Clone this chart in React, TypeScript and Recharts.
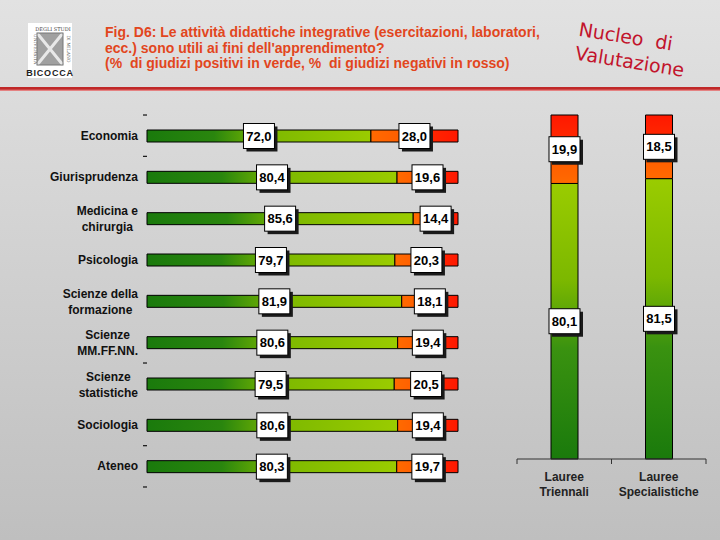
import React from 'react';
import { Bar, BarChart, LabelList, XAxis, YAxis } from 'recharts';

const faculties = [
  'Economia',
  'Giurisprudenza',
  'Medicina e\nchirurgia',
  'Psicologia',
  'Scienze della\nformazione',
  'Scienze\nMM.FF.NN.',
  'Scienze\nstatistiche',
  'Sociologia',
  'Ateneo',
];
const facultyPositive = [72.0, 80.4, 85.6, 79.7, 81.9, 80.6, 79.5, 80.6, 80.3];
const facultyNegative = [28.0, 19.6, 14.4, 20.3, 18.1, 19.4, 20.5, 19.4, 19.7];

const degreeTypes = ['Lauree\nTriennali', 'Lauree\nSpecialistiche'];
const degreePositive = [80.1, 81.5];
const degreeNegative = [19.9, 18.5];

// the original shows stray axis dashes only above these rows (and below the last)
const dashedRows = [0, 1, 6, 8];

const FONT = '"Liberation Sans", Arial, sans-serif';

const facultyRows = faculties.map((name, i) => ({
  name,
  pos: facultyPositive[i],
  neg: facultyNegative[i],
}));

const degreeRows = degreeTypes.map((name, i) => ({
  name,
  pos: degreePositive[i],
  neg: degreeNegative[i],
}));

const fmt = (v: number) => v.toFixed(1).replace('.', ',');

let measureCtx: CanvasRenderingContext2D | null = null;
function textWidth(s: string) {
  if (!measureCtx) measureCtx = document.createElement('canvas').getContext('2d');
  if (!measureCtx) return s.length * 7;
  measureCtx.font = `bold 12px ${FONT}`;
  return measureCtx.measureText(s).width;
}

// white boxed value with a drop shadow, centred in its segment
function ValueBox(props: any) {
  const { x, y, width, height, value } = props;
  const cx = Number(x) + Number(width) / 2;
  const cy = Number(y) + Number(height) / 2;
  const w = 31;
  const h = 25;
  return (
    <g>
      <rect x={cx - w / 2 + 3} y={cy - h / 2 + 3} width={w} height={h} fill="#1a1a1a" />
      <rect x={cx - w / 2} y={cy - h / 2} width={w} height={h} fill="#fff" stroke="#000" strokeWidth={1} />
      <text
        x={cx}
        y={cy + 4.5}
        textAnchor="middle"
        fontFamily={FONT}
        fontWeight="bold"
        fontSize={13}
        fill="#000"
      >
        {fmt(Number(value))}
      </text>
    </g>
  );
}

function FacultyTick(props: any) {
  const { x, y, payload, index } = props;
  const lines: string[] = String(payload.value).split('\n');
  const right = Number(x) - 1;
  const band = 41.3;
  const dashes: number[] = [];
  if (dashedRows.includes(index)) dashes.push(Number(y) - band / 2);
  if (index === faculties.length - 1) dashes.push(Number(y) + band / 2);
  const marks = dashes.map((dy, k) => (
    <line key={'d' + k} x1={x + 4} x2={x + 8} y1={dy} y2={dy} stroke="#111" strokeWidth={1.2} />
  ));
  if (lines.length === 1) {
    return (
      <g>
        {marks}
        <text x={right} y={Number(y) + 4} textAnchor="end" fontFamily={FONT} fontWeight="bold" fontSize={12} fill="#111">
          {lines[0]}
        </text>
      </g>
    );
  }
  const maxW = Math.max(...lines.map(textWidth));
  const cx = right - maxW / 2;
  return (
    <g>
      {marks}
      <text x={cx} textAnchor="middle" fontFamily={FONT} fontWeight="bold" fontSize={12} fill="#111">
        {lines.map((l, i) => (
          <tspan key={i} x={cx} y={Number(y) - 3 + i * 16}>
            {l}
          </tspan>
        ))}
      </text>
    </g>
  );
}

function DegreeTick(props: any) {
  const { x, y, payload } = props;
  const lines: string[] = String(payload.value).split('\n');
  const band = 94.5;
  return (
    <g>
      <line x1={x - band / 2} x2={x - band / 2} y1={y - 8} y2={y - 3} stroke="#333" />
      <line x1={x + band / 2} x2={x + band / 2} y1={y - 8} y2={y - 3} stroke="#333" />
      <text x={x} textAnchor="middle" fontFamily={FONT} fontWeight="bold" fontSize={12} fill="#222">
        {lines.map((l, i) => (
          <tspan key={i} x={x} y={y + 14 + i * 15}>
            {l}
          </tspan>
        ))}
      </text>
    </g>
  );
}

function Logo() {
  return (
    <div style={{ position: 'absolute', left: 28, top: 23, width: 44, height: 55, background: '#fff' }}>
      <svg width={44} height={55} style={{ display: 'block', overflow: 'visible' }}>
        <text x={25} y={7.5} textAnchor="middle" fontSize={5} fontFamily="DejaVu Serif" fill="#444">
          DEGLI STUDI
        </text>
        <text transform="translate(6 26) rotate(90)" textAnchor="middle" fontSize={4.5} fontFamily="DejaVu Serif" fill="#555">
          UNIVERSITÀ
        </text>
        <text transform="translate(38.5 26) rotate(90)" textAnchor="middle" fontSize={4.5} fontFamily="DejaVu Serif" fill="#555">
          DI MILANO
        </text>
        <rect x={9} y={10} width={26} height={32} fill="#a0a0a0" />
        <path d="M9 10 L35 42 M35 10 L9 42" stroke="#e8e8e8" strokeWidth={3} />
        <rect x={9} y={10} width={26} height={32} fill="none" stroke="#777" />
        <text x={22} y={53} textAnchor="middle" fontSize={9} fontWeight="bold" fontFamily={FONT} fill="#222" letterSpacing={0.8}>
          BICOCCA
        </text>
      </svg>
    </div>
  );
}

export default function App() {
  return (
    <div
      style={{
        position: 'fixed',
        left: 0,
        top: 0,
        width: 720,
        height: 540,
        overflow: 'hidden',
        fontFamily: FONT,
        background: 'linear-gradient(180deg, #e2e2e2 0%, #d2d2d2 45%, #bfbfbf 100%)',
      }}
    >
      <Logo />
      <div
        style={{
          position: 'absolute',
          left: 105,
          top: 25,
          fontSize: 14,
          fontWeight: 'bold',
          lineHeight: '15.5px',
          color: '#e2461d',
          whiteSpace: 'pre',
        }}
      >
        {'Fig. D6: Le attività didattiche integrative (esercitazioni, laboratori,\necc.) sono utili ai fini dell\'apprendimento?\n(%  di giudizi positivi in verde, %  di giudizi negativi in rosso)'}
      </div>
      <div
        style={{
          position: 'absolute',
          left: 581,
          top: 17,
          fontFamily: '"DejaVu Sans"',
          fontSize: 19,
          lineHeight: '24px',
          color: '#c2142c',
          transform: 'rotate(9deg)',
          transformOrigin: 'left top',
          whiteSpace: 'pre',
        }}
      >
        {'Nucleo  di\nValutazione'}
      </div>
      <div
        style={{
          position: 'absolute',
          left: 0,
          top: 87,
          width: 720,
          height: 4,
          background: 'linear-gradient(180deg, #c02828 0%, #c02828 50%, #f0a0a0 100%)',
        }}
      />

      <div style={{ position: 'absolute', left: 0, top: 0 }}>
        <BarChart
          width={470}
          height={500}
          data={facultyRows}
          layout="vertical"
          margin={{ top: 115, right: 12, bottom: 13, left: 0 }}
          barSize={12}
        >
          <defs>
            <linearGradient id="gPosH" x1="0" y1="0" x2="1" y2="0">
              <stop offset="0%" stopColor="#1a7a0c" />
              <stop offset="30%" stopColor="#2a860e" />
              <stop offset="52%" stopColor="#7cb800" />
              <stop offset="100%" stopColor="#9acc00" />
            </linearGradient>
            <linearGradient id="gNegH" x1="0" y1="0" x2="1" y2="0">
              <stop offset="0%" stopColor="#ff6a00" />
              <stop offset="45%" stopColor="#ff5a00" />
              <stop offset="58%" stopColor="#ff2a00" />
              <stop offset="100%" stopColor="#ff1800" />
            </linearGradient>
          </defs>
          <XAxis type="number" domain={[0, 100]} hide />
          <YAxis
            type="category"
            dataKey="name"
            width={147}
            axisLine={false}
            tickLine={false}
            interval={0}
            tick={<FacultyTick />}
          />
          <Bar dataKey="pos" stackId="a" fill="url(#gPosH)" stroke="#000" strokeWidth={1} isAnimationActive={false}>
            <LabelList dataKey="pos" content={<ValueBox />} />
          </Bar>
          <Bar dataKey="neg" stackId="a" fill="url(#gNegH)" stroke="#000" strokeWidth={1} isAnimationActive={false}>
            <LabelList dataKey="neg" content={<ValueBox />} />
          </Bar>
        </BarChart>
      </div>

      <div style={{ position: 'absolute', left: 500, top: 0 }}>
        <BarChart
          width={220}
          height={540}
          data={degreeRows}
          margin={{ top: 115, right: 14, bottom: 41, left: 17 }}
          barSize={27}
        >
          <defs>
            <linearGradient id="gPosV" x1="0" y1="0" x2="0" y2="1">
              <stop offset="0%" stopColor="#9acc00" />
              <stop offset="35%" stopColor="#7cb800" />
              <stop offset="60%" stopColor="#3a9210" />
              <stop offset="100%" stopColor="#1a7a0c" />
            </linearGradient>
            <linearGradient id="gNegV" x1="0" y1="0" x2="0" y2="1">
              <stop offset="0%" stopColor="#ff1800" />
              <stop offset="40%" stopColor="#ff2a00" />
              <stop offset="60%" stopColor="#ff5a00" />
              <stop offset="100%" stopColor="#ff6a00" />
            </linearGradient>
          </defs>
          <YAxis domain={[0, 100]} hide />
          <XAxis
            dataKey="name"
            height={40}
            interval={0}
            axisLine={{ stroke: '#333' }}
            tickLine={false}
            tick={<DegreeTick />}
          />
          <Bar dataKey="pos" stackId="b" fill="url(#gPosV)" stroke="#000" strokeWidth={1} isAnimationActive={false}>
            <LabelList dataKey="pos" content={<ValueBox />} />
          </Bar>
          <Bar dataKey="neg" stackId="b" fill="url(#gNegV)" stroke="#000" strokeWidth={1} isAnimationActive={false}>
            <LabelList dataKey="neg" content={<ValueBox />} />
          </Bar>
        </BarChart>
      </div>
    </div>
  );
}
